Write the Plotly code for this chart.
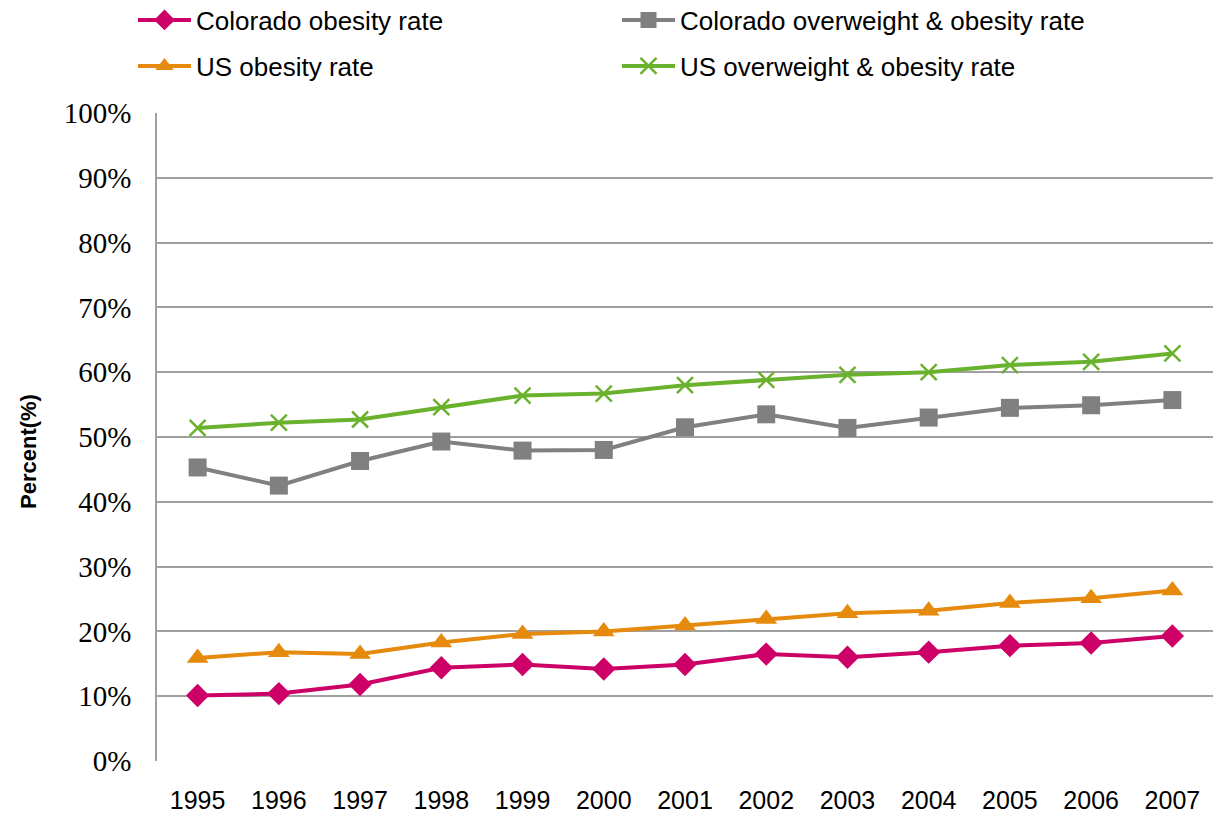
import plotly.graph_objects as go

years = ["1995", "1996", "1997", "1998", "1999", "2000", "2001",
         "2002", "2003", "2004", "2005", "2006", "2007"]

co_obesity = [10.1, 10.4, 11.8, 14.4, 14.9, 14.2, 14.9, 16.5, 16.0, 16.8, 17.8, 18.2, 19.3]
co_overweight_obesity = [45.3, 42.5, 46.3, 49.3, 47.9, 48.0, 51.5, 53.5, 51.4, 53.0, 54.5, 54.9, 55.7]
us_obesity = [15.9, 16.8, 16.5, 18.3, 19.6, 20.0, 20.9, 21.9, 22.8, 23.2, 24.4, 25.1, 26.3]
us_overweight_obesity = [51.4, 52.2, 52.7, 54.6, 56.4, 56.7, 58.0, 58.8, 59.6, 60.0, 61.1, 61.6, 62.9]

series = [
    ("Colorado obesity rate", co_obesity, "#CC0066", "diamond", 18, "legend"),
    ("Colorado overweight & obesity rate", co_overweight_obesity, "#808080", "square", 18, "legend"),
    ("US obesity rate", us_obesity, "#E68A0E", "triangle-up", 19, "legend2"),
    ("US overweight & obesity rate", us_overweight_obesity, "#6AB22E", "x-thin", 16, "legend2"),
]

fig = go.Figure()
for name, vals, color, symbol, size, leg in series:
    marker = dict(symbol=symbol, size=size, color=color)
    if symbol == "x-thin":
        marker["line"] = dict(color=color, width=2.5)
    fig.add_trace(go.Scatter(
        x=years, y=[v / 100 for v in vals], name=name, mode="lines+markers",
        line=dict(color=color, width=4), marker=marker, legend=leg,
    ))

legend_font = dict(family="Liberation Sans, Arial, sans-serif", size=26, color="#000000")
common_legend = dict(orientation="h", xanchor="left", yanchor="middle",
                     xref="container", yref="container",
                     itemwidth=53, entrywidth=416, entrywidthmode="pixels",
                     font=legend_font, bgcolor="rgba(0,0,0,0)")

fig.update_layout(
    width=1218, height=814,
    margin=dict(l=157, r=5, t=113, b=53, autoexpand=False),
    paper_bgcolor="white", plot_bgcolor="white",
    showlegend=True,
    legend=dict(x=133 / 1218, y=1 - 20 / 814, **common_legend),
    legend2=dict(x=133 / 1218, y=1 - 66 / 814, **common_legend),
    xaxis=dict(
        type="category", range=[-0.5, 12.5], showgrid=False, showline=False, ticks="",
        tickfont=dict(family="Liberation Sans, Arial, sans-serif", size=25, color="#000000"),
        ticklabelstandoff=22,
    ),
    yaxis=dict(
        range=[0, 1], tickvals=[i / 10 for i in range(11)], tickformat=".0%",
        showgrid=True, gridcolor="#A0A0A0", gridwidth=1.5,
        showline=True, linecolor="#A0A0A0", linewidth=1.5,
        ticks="", ticklabelstandoff=18,
        tickfont=dict(family="Liberation Serif, Times New Roman, serif", size=29, color="#000000"),
        zeroline=False,
    ),
    annotations=[dict(
        text="<b>Percent(%)</b>", textangle=-90, showarrow=False,
        xref="paper", yref="paper", x=(28 - 157) / 1056, y=(761 - 452) / 648,
        xanchor="center", yanchor="middle",
        font=dict(family="Liberation Sans, Arial, sans-serif", size=22, color="#000000"),
    )],
)

fig.write_html("out.html")
